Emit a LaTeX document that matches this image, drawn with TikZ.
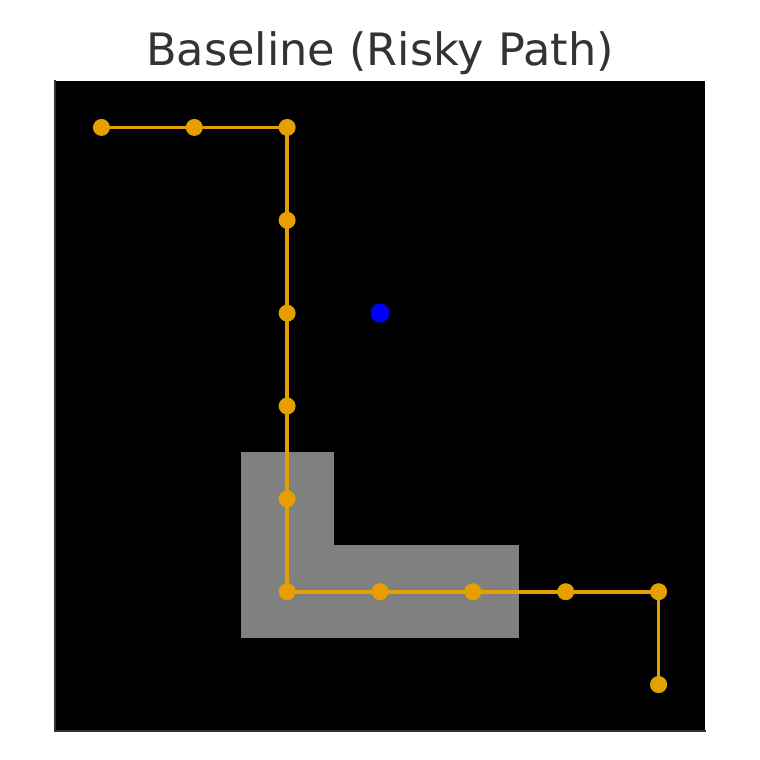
\documentclass[tikz,border=0pt]{standalone}
\usepackage{fontspec}
\setmainfont{DejaVu Sans}
\definecolor{pathorange}{HTML}{E69F00}
\definecolor{spinegray}{HTML}{333333}
\definecolor{obst}{HTML}{808080}
\begin{document}
\begin{tikzpicture}[x=1pt,y=-1pt,
  wp/.style={circle,fill=pathorange,inner sep=0pt,minimum size=17pt},
  agent/.style={circle,fill=blue,inner sep=0pt,minimum size=19pt},
  goal/.style={circle,fill=green!60!black,inner sep=0pt,minimum size=17pt},
  route/.style={draw=pathorange,line width=3.6pt}]
\useasboundingbox (0,0) rectangle (760,760);
\pgfmathsetmacro{\s}{650/7}
\fill[black] (55,81) rectangle (705,730);
% obstacle
\fill[obst] ({55+2*\s},{81+4*\s}) rectangle ({55+3*\s},{81+6*\s});
\fill[obst] ({55+3*\s},{81+5*\s}) rectangle ({55+5*\s},{81+6*\s});
% spines
\draw[spinegray,line width=2pt] (55,80) -- (55,731) -- (706,731);
% waypoints
\foreach \n/\c/\r in {p0/0/0,p1/1/0,p2/2/0,p3/2/1,p4/2/2,p5/2/3,p6/2/4,p7/2/5,p8/3/5,p9/4/5,p10/5/5,p11/6/5,p12/6/6}
  \coordinate (\n) at ({55+(\c+0.5)*\s},{81+(\r+0.5)*\s});
\node[goal] (g) at (p12) {};
\draw[route] (p0) -- (p1) -- (p2) -- (p3) -- (p4) -- (p5) -- (p6) -- (p7) -- (p8) -- (p9) -- (p10) -- (p11) -- (p12);
\foreach \n in {p0,p1,p2,p3,p4,p5,p6,p7,p8,p9,p10,p11,p12}
  \node[wp] (w\n) at (\n) {};
\node[agent] (a) at ({55+3.5*\s},{81+2.5*\s}) {};
\node[text=spinegray,font=\fontsize{44.6}{50}\selectfont,anchor=base] (title) at (380,66) {Baseline (Risky Path)};
\end{tikzpicture}
\end{document}
